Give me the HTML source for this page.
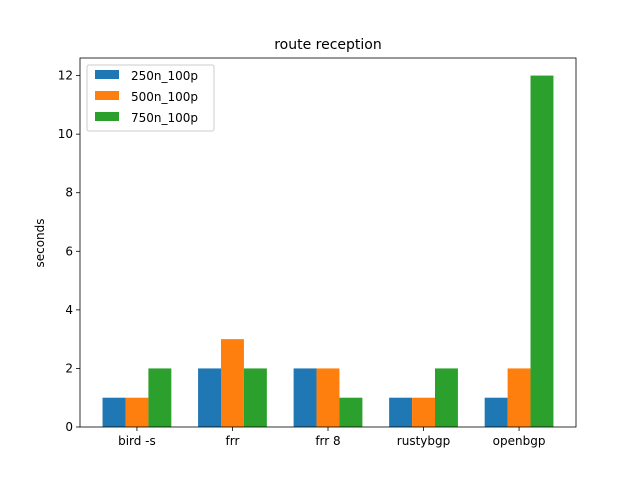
<!DOCTYPE html>
<html><head><meta charset="utf-8"><style>
body{margin:0;background:#fff;font-family:"Liberation Sans","DejaVu Sans",sans-serif;}
svg text{font-family:"DejaVu Sans","Liberation Sans",sans-serif;}
</style></head><body>
<svg id="c" width="640" height="480" xmlns="http://www.w3.org/2000/svg">
<rect width="640" height="480" fill="#fff"/>
<text x="328" y="49" font-size="14" text-anchor="middle">route reception</text>
<text transform="translate(44,243) rotate(-90)" font-size="12" text-anchor="middle">seconds</text>
<g id="bars"></g>
<g id="axes"></g>
<rect x="80" y="58" width="496" height="369" fill="none" stroke="#000" stroke-width="0.8"/>
<g>
<rect x="87" y="65" width="127" height="66" rx="2" fill="#fff" stroke="#ccc"/>
<g><rect x="95" y="70" width="24" height="9" fill="#1f77b4"/><text x="131" y="80" font-size="12">250n_100p</text></g>
<g><rect x="95" y="91" width="24" height="9" fill="#ff7f0e"/><text x="131" y="101" font-size="12">500n_100p</text></g>
<g><rect x="95" y="112" width="24" height="9" fill="#2ca02c"/><text x="131" y="122" font-size="12">750n_100p</text></g>
</g>
</svg>
<script>
const categories = ["bird -s","frr","frr 8","rustybgp","openbgp"];
const s250 = [1,2,2,1,1];
const s500 = [1,3,2,1,2];
const s750 = [2,2,1,2,12];
const yTicks = [0,2,4,6,8,10,12];
const NS="http://www.w3.org/2000/svg";
const L=80,R=576,T=58,B=427,ymax=12.6,xmin=-0.596,xmax=4.596,bw=0.24;
const xs=v=>L+(v-xmin)/(xmax-xmin)*(R-L);
const ys=v=>B-v/ymax*(B-T);
const bars=document.getElementById('bars'),axes=document.getElementById('axes');
function mk(t,a,p){const e=document.createElementNS(NS,t);for(const k in a)e.setAttribute(k,a[k]);p.appendChild(e);return e;}
const series=[[s250,"#1f77b4","bar-250n"],[s500,"#ff7f0e","bar-500n"],[s750,"#2ca02c","bar-750n"]];
series.forEach((s,si)=>{s[0].forEach((v,i)=>{const c=i+(si-1)*bw;
const r=mk('rect',{x:xs(c-bw/2),y:ys(v),width:xs(c+bw/2)-xs(c-bw/2),height:ys(0)-ys(v),fill:s[1]},bars);

});});
categories.forEach((c,i)=>{const x=xs(i);
mk('line',{x1:x,x2:x,y1:B,y2:B+4,stroke:'#000','stroke-width':0.8},axes);
const t=mk('text',{x:x,y:B+18,'font-size':12,'text-anchor':'middle'},axes);t.textContent=c;

});
yTicks.forEach(v=>{const y=ys(v);
mk('line',{x1:L-4,x2:L,y1:y,y2:y,stroke:'#000','stroke-width':0.8},axes);
const t=mk('text',{x:L-7,y:y+4,'font-size':12,'text-anchor':'end'},axes);t.textContent=v;

});
</script>
</body></html>
